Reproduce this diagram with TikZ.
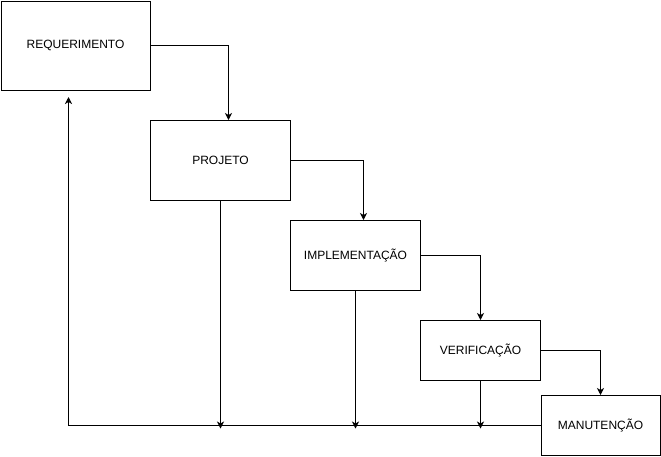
\documentclass[tikz,border=0pt]{standalone}
\usepackage{fontspec}
\setmainfont{Liberation Sans}
\usetikzlibrary{arrows.meta}

\tikzset{
  phase/.style={draw, line width=1pt, rectangle, inner sep=0pt, align=center,
    font=\fontsize{12}{14}\selectfont},
  flow/.style={line width=1pt, -{Stealth[length=7pt,width=7pt,inset=2pt]}},
  link/.style={line width=1pt}
}

\begin{document}
\begin{tikzpicture}[x=1pt, y=-1pt]
    \useasboundingbox (0,0) rectangle (661,456);

    % Draw the phases of the cascade
    \node[phase, minimum width=149pt, minimum height=89pt] (req)   at (75.5,45.5)  {REQUERIMENTO};
    \node[phase, minimum width=140pt, minimum height=80pt] (proj)  at (220.5,160.5) {PROJETO};
    \node[phase, minimum width=130pt, minimum height=70pt] (impl)  at (355.5,255.5) {IMPLEMENTAÇÃO};
    \node[phase, minimum width=120pt, minimum height=60pt] (verif) at (480.5,350.5) {VERIFICAÇÃO};
    \node[phase, minimum width=119pt, minimum height=60pt] (man)   at (600.5,425.5) {MANUTENÇÃO};

    % Forward arrows from one phase to the next
    \draw[flow] (req.east) -| ([xshift=8pt]proj.north);
    \draw[flow] (proj.east) -| ([xshift=8pt]impl.north);
    \draw[flow] (impl.east) -| (verif.north);
    \draw[flow] (verif.east) -| (man.north);

    % Feedback line back to the requirements
    \coordinate (corner) at (68.5,425.5);
    \coordinate (back) at (68.5,97);
    \draw[flow] (man.west) -- (corner) -- (back);

    % Drops onto the feedback line
    \draw[flow, shorten >=-3pt] (proj.south) -- (proj.south |- corner);
    \draw[flow, shorten >=-3pt] (impl.south) -- (impl.south |- corner);
    \draw[flow, shorten >=-3pt] (verif.south) -- (verif.south |- corner);

\end{tikzpicture}
\end{document}
